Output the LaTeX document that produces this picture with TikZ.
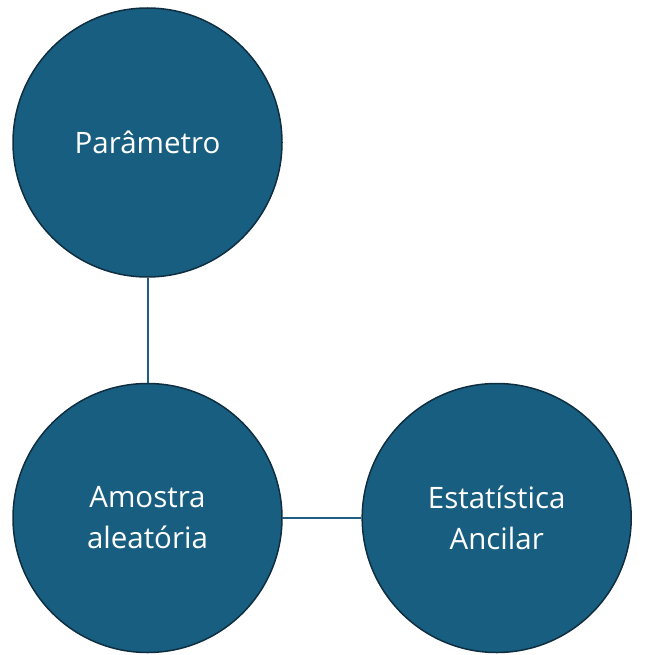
\documentclass[tikz,border=0pt]{standalone}
\usepackage{fontspec}
\setmainfont{Open Sans}
\definecolor{fillblue}{HTML}{185E81}
\definecolor{edgeblue}{HTML}{0F2E40}
\definecolor{linkblue}{HTML}{1E5F80}
\begin{document}
\begin{tikzpicture}[x=1pt,y=-1pt,
  bubble/.style={circle, fill=fillblue, draw=edgeblue, line width=1.5pt, minimum size=269pt, inner sep=0pt, text=white, align=center, font=\fontsize{29.5}{41}\selectfont},
  link/.style={draw=linkblue, line width=2pt}]
\useasboundingbox (0,0) rectangle (645,655);
\node[bubble] (par) at (147.5,142.5) {Parâmetro};
\node[bubble] (amo) at (147.5,518) {Amostra\\aleatória};
\node[bubble] (est) at (496.7,518) {Estatística\\Ancilar};
\draw[link] (par) -- (amo);
\draw[link] (amo) -- (est);
\end{tikzpicture}
\end{document}
